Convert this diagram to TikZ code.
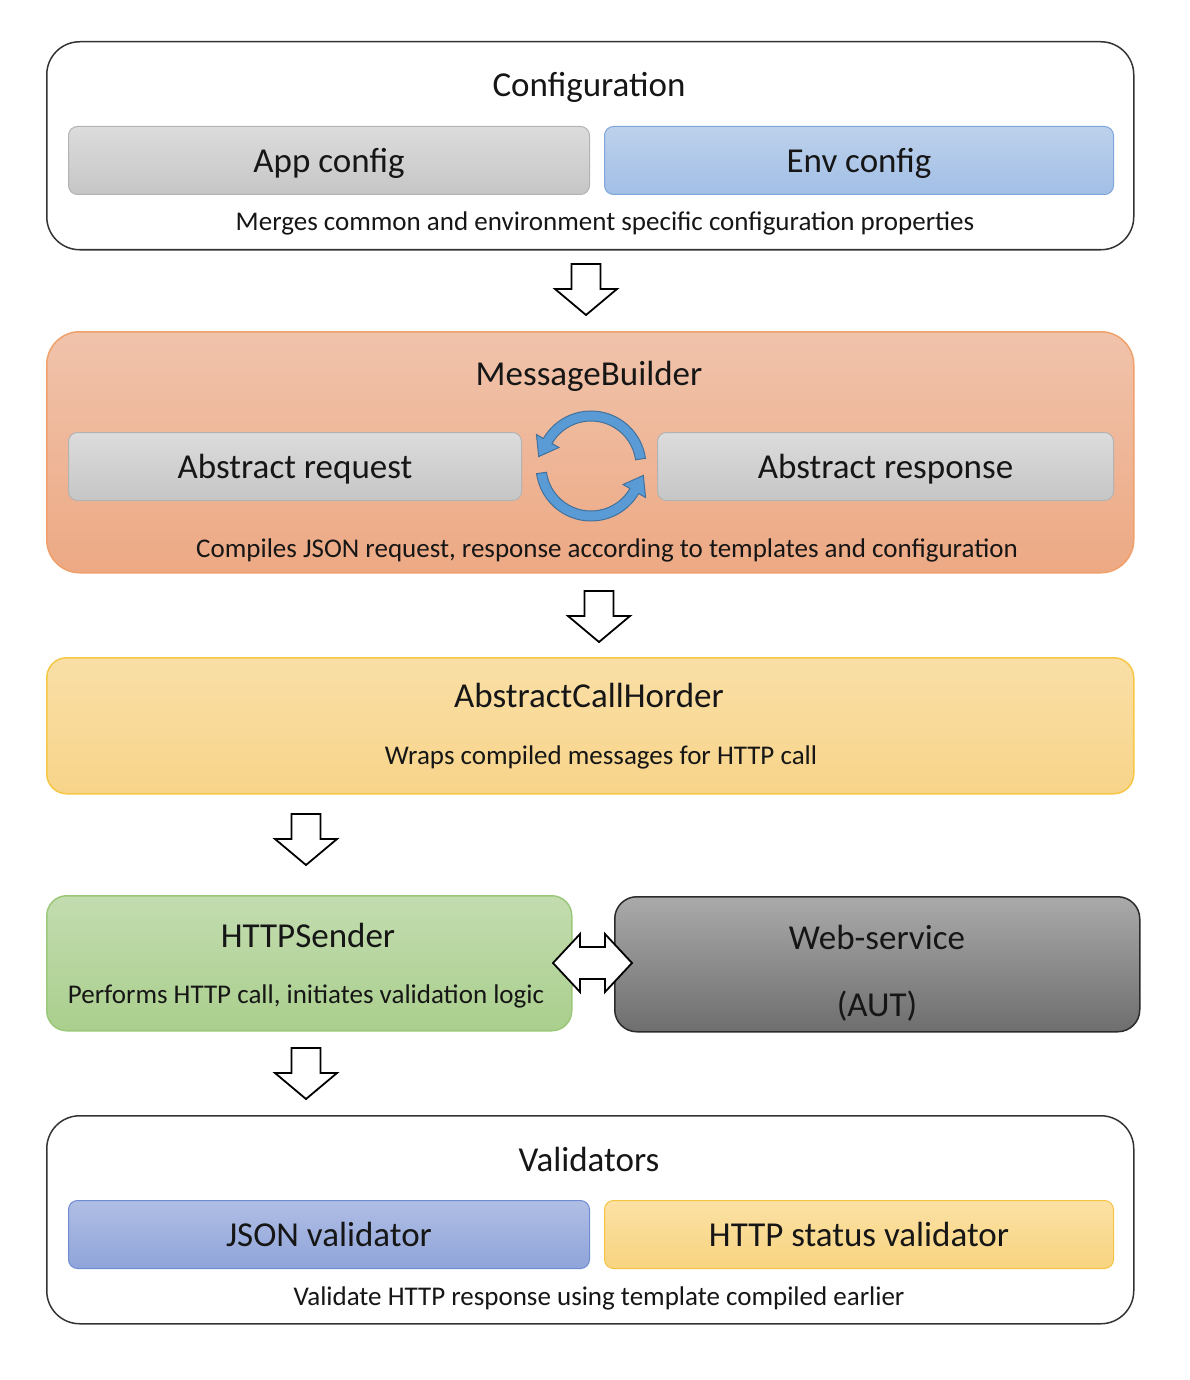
\documentclass[tikz,border=0pt]{standalone}
\usepackage{fontspec}
\setmainfont{Carlito}
\usetikzlibrary{calc}
\definecolor{txt}{HTML}{161616}
\definecolor{frame}{HTML}{333333}
\definecolor{greyT}{HTML}{DCDCDC}\definecolor{greyB}{HTML}{C6C6C6}\definecolor{greyD}{HTML}{B3B3B3}
\definecolor{blueT}{HTML}{BDD1EB}\definecolor{blueB}{HTML}{A2BFE6}\definecolor{blueD}{HTML}{7EA6DC}
\definecolor{salT}{HTML}{F0C3AB}\definecolor{salB}{HTML}{EDA984}\definecolor{salD}{HTML}{F0A06A}
\definecolor{yelT}{HTML}{F9DFA6}\definecolor{yelB}{HTML}{F8D48A}\definecolor{yelD}{HTML}{F6C744}
\definecolor{grnT}{HTML}{C3DCB0}\definecolor{grnB}{HTML}{AACF8D}\definecolor{grnD}{HTML}{9CC87A}
\definecolor{dgT}{HTML}{AAAAAA}\definecolor{dgB}{HTML}{6E6E6E}\definecolor{dgD}{HTML}{2B2B2B}
\definecolor{purT}{HTML}{B0BEE4}\definecolor{purB}{HTML}{8FA4DA}\definecolor{purD}{HTML}{6F8BD2}
\definecolor{ylT}{HTML}{FBE1A4}\definecolor{ylB}{HTML}{F8D480}\definecolor{ylD}{HTML}{F5C343}
\definecolor{cycF}{HTML}{5B9BD5}\definecolor{cycD}{HTML}{41719C}
\begin{document}
\begin{tikzpicture}[x=1pt,y=-1pt,
  bigbox/.style={draw, line width=1.5pt, inner sep=0pt, anchor=north west, rounded corners=33pt},
  subbox/.style={draw, line width=1pt, inner sep=0pt, anchor=north west, rounded corners=9pt},
  title/.style={text=txt, inner sep=0pt, font=\fontsize{35}{42}\selectfont, text height=25pt, text depth=1pt},
  label/.style={text=txt, inner sep=0pt, font=\fontsize{35}{42}\selectfont, text height=25pt, text depth=1pt},
  desc/.style={text=txt, inner sep=0pt, font=\fontsize{27}{32}\selectfont, text height=19pt, text depth=1pt},
  downarrow/.pic={\draw[line width=1.8pt, fill=white, line join=miter]
     (-14.5,0) -- (14.5,0) -- (14.5,25) -- (31,25) -- (0,51) -- (-31,25) -- (-14.5,25) -- cycle;},
  dblarrow/.pic={\draw[line width=1.8pt, fill=white, line join=miter]
     (-39.5,0) -- (-12.5,-29) -- (-12.5,-16) -- (12.5,-16) -- (12.5,-29) -- (39.5,0)
     -- (12.5,29) -- (12.5,16) -- (-12.5,16) -- (-12.5,29) -- cycle;}
]
\useasboundingbox (0,0) rectangle (1190,1380);
\fill[white] (0,0) rectangle (1190,1380);

% Configuration
\node[bigbox, draw=frame, fill=white, minimum width=1087pt, minimum height=208pt] (config) at (46,41) {};
\node[title] (configT) at (589,85) {Configuration};
\node[subbox, draw=greyD, top color=greyT, bottom color=greyB, minimum width=521pt, minimum height=68pt] (app) at (68,126) {};
\node[label] at (app.center) {App config};
\node[subbox, draw=blueD, top color=blueT, bottom color=blueB, minimum width=509pt, minimum height=68pt] (env) at (604,126) {};
\node[label] at (env.center) {Env config};
\node[desc] (configD) at (605,221) {Merges common and environment specific configuration properties};

\pic at (586,264) {downarrow};

% MessageBuilder
\node[bigbox, draw=salD, top color=salT, bottom color=salB, minimum width=1087pt, minimum height=241pt] (mb) at (46,331) {};
\node[title] (mbT) at (589,373) {MessageBuilder};
\node[subbox, draw=greyD, top color=greyT, bottom color=greyB, minimum width=453pt, minimum height=68pt] (areq) at (68,432) {};
\node[label] at (areq.center) {Abstract request};
\node[subbox, draw=greyD, top color=greyT, bottom color=greyB, minimum width=456pt, minimum height=68pt] (aresp) at (657,432) {};
\node[label] at (aresp.center) {Abstract response};
\node[desc] (mbD) at (607,548) {Compiles JSON request, response according to templates and configuration};

% cycle arrows
\coordinate (cyc) at (591,466);
\filldraw[fill=cycF, draw=cycD, line width=1pt, line join=miter]
  ($(cyc)+(-8:55)$) arc[start angle=-8, end angle=-150, radius=55]
  -- ($(cyc)+(-150:63)$) -- ($(cyc)+(-150:50)+(-0.5*18,0.866*18)$)
  -- ($(cyc)+(-150:37)$) -- ($(cyc)+(-150:45)$)
  arc[start angle=-150, end angle=-8, radius=45] -- cycle;
\filldraw[fill=cycF, draw=cycD, line width=1pt, line join=miter]
  ($(cyc)+(-188:55)$) arc[start angle=-188, end angle=-330, radius=55]
  -- ($(cyc)+(-330:63)$) -- ($(cyc)+(-330:50)+(0.5*18,-0.866*18)$)
  -- ($(cyc)+(-330:37)$) -- ($(cyc)+(-330:45)$)
  arc[start angle=-330, end angle=-188, radius=45] -- cycle;

\pic at (599,591) {downarrow};

% AbstractCallHorder
\node[bigbox, rounded corners=20pt, draw=yelD, top color=yelT, bottom color=yelB, minimum width=1087pt, minimum height=136pt] (ach) at (46,657) {};
\node[title] (achT) at (589,695) {AbstractCallHorder};
\node[desc] (achD) at (601,755) {Wraps compiled messages for HTTP call};

\pic at (306,814) {downarrow};

% HTTPSender and Web-service
\node[bigbox, rounded corners=20pt, draw=grnD, top color=grnT, bottom color=grnB, minimum width=525pt, minimum height=135pt] (http) at (46,895) {};
\node[title] (httpT) at (308,935) {HTTPSender};
\node[desc] (httpD) at (306,994) {Performs HTTP call, initiates validation logic};
\node[bigbox, rounded corners=22pt, draw=dgD, top color=dgT, bottom color=dgB, minimum width=525pt, minimum height=135pt] (ws) at (614,896) {};
\node[title] (wsT) at (877,937) {Web-service};
\node[title] (wsA) at (877,1004) {(AUT)};
\pic at (592.5,963) {dblarrow};

\pic at (306,1048) {downarrow};

% Validators
\node[bigbox, draw=frame, fill=white, minimum width=1087pt, minimum height=208pt] (val) at (46,1115) {};
\node[title] (valT) at (589,1159) {Validators};
\node[subbox, draw=purD, top color=purT, bottom color=purB, minimum width=521pt, minimum height=68pt] (json) at (68,1200) {};
\node[label] at (json.center) {JSON validator};
\node[subbox, draw=ylD, top color=ylT, bottom color=ylB, minimum width=509pt, minimum height=68pt] (hsv) at (604,1200) {};
\node[label] at (hsv.center) {HTTP status validator};
\node[desc] (valD) at (599,1296) {Validate HTTP response using template compiled earlier};
\end{tikzpicture}
\end{document}
